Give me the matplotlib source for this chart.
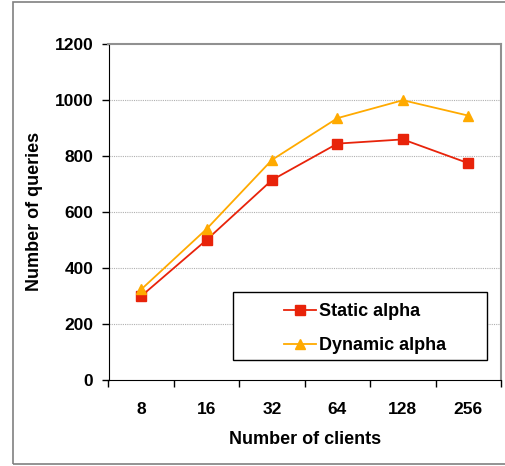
import matplotlib
matplotlib.use("Agg")
import matplotlib.pyplot as plt
from matplotlib.patches import Rectangle

clients = ["8", "16", "32", "64", "128", "256"]
static_alpha = [298, 499, 713, 843, 858, 773]
dynamic_alpha = [322, 538, 785, 934, 998, 943]
y_ticks = [0, 200, 400, 600, 800, 1000, 1200]

plt.rcParams["font.family"] = ["Liberation Sans", "DejaVu Sans"]
plt.rcParams["font.weight"] = "bold"

fig = plt.figure(figsize=(5.05, 4.66), dpi=100)
W, H = 505, 466
# outer frame around the chart
fig.patches.append(Rectangle((13 / W, 2 / H), 1.2, 462 / H, transform=fig.transFigure,
                             fill=False, edgecolor="#808080", linewidth=1.2))

left, right, top, bottom = 108.5, 501, 43.7, 379.5
ax = fig.add_axes([left / W, (H - bottom) / H, (right - left) / W, (bottom - top) / H])
x = list(range(len(clients)))
ax.plot(x, static_alpha, color="#e8230a", marker="s", markersize=7, linewidth=1.3,
        label="Static alpha")
ax.plot(x, dynamic_alpha, color="#ffaa00", marker="^", markersize=7, linewidth=1.3,
        label="Dynamic alpha")

ax.set_xlim(-0.5, len(clients) - 0.5)
ax.set_ylim(0, 1200)
ax.set_yticks(y_ticks)
ax.set_yticklabels([str(v) for v in y_ticks], fontsize=12.5, fontweight="bold")
ax.set_xticks(x)
ax.set_xticklabels(clients, fontsize=12.5, fontweight="bold")
ax.tick_params(axis="x", which="major", length=0, pad=16)
ax.set_xticks([i - 0.5 for i in range(len(clients) + 1)], minor=True)
ax.tick_params(axis="x", which="minor", length=5, direction="out", width=1)
ax.tick_params(axis="y", length=5, direction="out", width=1, pad=6)

for v in y_ticks[1:-1]:
    ax.axhline(v, color="#b0b0b0", linestyle=(0, (1, 1)), linewidth=0.8, zorder=0)

ax.spines["top"].set_color("#909090")
ax.spines["right"].set_color("#909090")
ax.spines["top"].set_linewidth(1.5)
ax.spines["right"].set_linewidth(1.5)
ax.spines["left"].set_color("black")
ax.spines["bottom"].set_color("black")

ax.set_xlabel("Number of clients", fontsize=13, fontweight="bold", labelpad=10)
ax.set_ylabel("Number of queries", fontsize=13, fontweight="bold", labelpad=8)

# legend box (wide, entries sit towards its right side)
bx0, bx1, by0, by1 = 233, 487, 292, 360
def to_ax(px, py):
    return (px - left) / (right - left), (bottom - py) / (bottom - top)
x0, y0 = to_ax(bx0, by1)
x1, y1 = to_ax(bx1, by0)
ax.add_patch(Rectangle((x0, y0), x1 - x0, y1 - y0, transform=ax.transAxes,
                       fill=True, facecolor="white", edgecolor="black", linewidth=1.0, zorder=4))
lx, ly = to_ax(284, by1 - 6)
leg = ax.legend(loc="lower left", bbox_to_anchor=(lx, ly), frameon=False, fontsize=13,
                handlelength=1.75, borderpad=0, labelspacing=0.95, handletextpad=0.2,
                borderaxespad=0)
leg.set_zorder(5)
for t in leg.get_texts():
    t.set_fontweight("bold")

fig.savefig("out.png", dpi=100)
